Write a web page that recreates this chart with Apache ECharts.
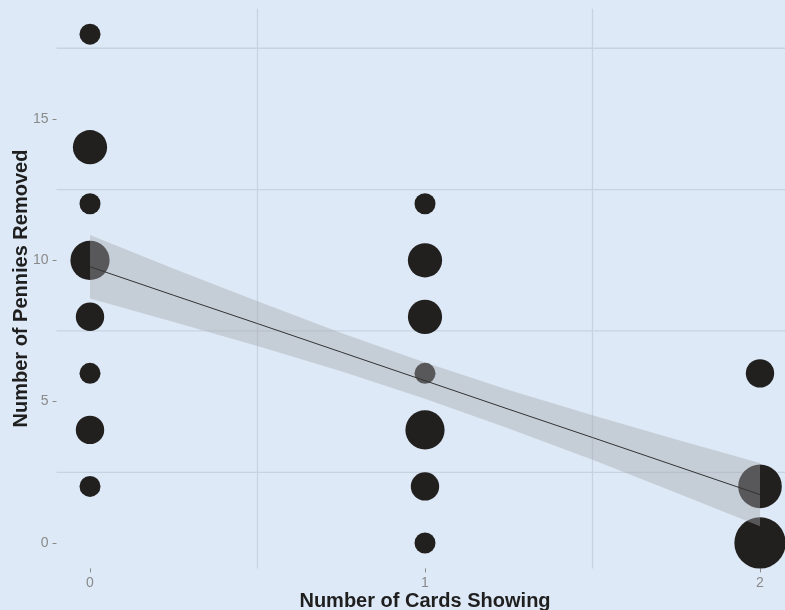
<!DOCTYPE html>
<html>
<head>
<meta charset="utf-8">
<script src="https://cdn.jsdelivr.net/npm/echarts@6/dist/echarts.min.js"></script>
<style>
html,body{margin:0;padding:0;background:#dde9f6;}
#chart{width:785px;height:610px;}
</style>
</head>
<body>
<div id="chart"></div>
<script>
// Data
const cardsShowing   = [0, 0, 0, 0, 0, 0, 0, 0, 1, 1, 1, 1, 1, 1, 1, 2, 2, 2];
const penniesRemoved = [18, 14, 12, 10, 8, 6, 4, 2, 12, 10, 8, 6, 4, 2, 0, 6, 2, 0];
const counts         = [1, 3, 1, 4, 2, 1, 2, 1, 1, 3, 3, 1, 4, 2, 1, 2, 5, 7];

// fitted regression line with its confidence band
const fitX     = [0, 0.25, 0.5, 0.75, 1, 1.25, 1.5, 1.75, 2];
const fitY     = [9.77, 8.76, 7.76, 6.75, 5.74, 4.73, 3.73, 2.72, 1.71];
const fitLower = [8.65, 7.82, 6.97, 6.07, 5.10, 4.05, 2.94, 1.78, 0.59];
const fitUpper = [10.89, 9.70, 8.55, 7.43, 6.38, 5.41, 4.52, 3.66, 2.83];

const xTicks = [0, 1, 2];
const yTicks = [0, 5, 10, 15];
const gridX  = [0.5, 1.5];
const gridY  = [2.5, 7.5, 12.5, 17.5];

const xName = 'Number of Cards Showing';
const yName = 'Number of Pennies Removed';

const pointData = cardsShowing.map((x, i) => [x, penniesRemoved[i], counts[i]]);

function sizeFor(n) { return Math.sqrt(441 + 365 * (n - 1)); }

const chart = echarts.init(document.getElementById('chart'), null, {renderer: 'canvas'});
const tickColor = '#8a8a8a';
const gridColor = '#c8d3e2';

chart.setOption({
  backgroundColor: '#dde9f6',
  animation: false,
  grid: {left: 56.5, right: -8.5, top: 8.7, bottom: 41.6, containLabel: false, outerBoundsMode: 'none'},
  xAxis: {
    type: 'value', min: -0.1, max: 2.1,
    name: xName, nameLocation: 'middle', nameGap: 23, nameMoveOverlap: false,
    nameTextStyle: {fontFamily: 'Liberation Sans', fontWeight: 'bold', fontSize: 20, color: '#1f1f1f'},
    axisLine: {show: false, onZero: false},
    splitLine: {show: false},
    axisTick: {show: true, length: 4, customValues: xTicks, lineStyle: {color: tickColor, width: 1}},
    axisLabel: {customValues: xTicks, margin: 8, fontFamily: 'Liberation Sans', fontSize: 14, color: tickColor}
  },
  yAxis: {
    type: 'value', min: -0.9, max: 18.9,
    name: yName, nameLocation: 'middle', nameGap: 25, nameRotate: 90, nameMoveOverlap: false,
    nameTextStyle: {fontFamily: 'Liberation Sans', fontWeight: 'bold', fontSize: 20, color: '#1f1f1f'},
    axisLine: {show: false, onZero: false},
    splitLine: {show: false},
    axisTick: {show: true, length: 4, customValues: yTicks, lineStyle: {color: tickColor, width: 1}},
    axisLabel: {customValues: yTicks, margin: 8, fontFamily: 'Liberation Sans', fontSize: 14, color: tickColor}
  },
  series: [
    {
      type: 'custom', z: 1, silent: true,
      data: gridY.map(v => [0, v]),
      renderItem: function (params, api) {
        const p = api.coord([0, api.value(1)]);
        const cs = params.coordSys;
        return {type: 'line', shape: {x1: cs.x, y1: p[1], x2: cs.x + cs.width, y2: p[1]},
                style: {stroke: gridColor, lineWidth: 1.3}};
      }
    },
    {
      type: 'custom', z: 1, silent: true,
      data: gridX.map(v => [v, 0]),
      renderItem: function (params, api) {
        const p = api.coord([api.value(0), 0]);
        const cs = params.coordSys;
        return {type: 'line', shape: {x1: p[0], y1: cs.y, x2: p[0], y2: cs.y + cs.height},
                style: {stroke: gridColor, lineWidth: 1.3}};
      }
    },
    {
      type: 'scatter', z: 2, clip: true, silent: true,
      data: pointData,
      symbol: 'circle',
      symbolSize: function (val) { return sizeFor(val[2]); },
      itemStyle: {color: '#221f1f', opacity: 1}
    },
    {
      type: 'custom', z: 3, silent: true,
      data: [[0, 0]],
      renderItem: function (params, api) {
        const pts = [];
        for (let i = 0; i < fitX.length; i++) pts.push(api.coord([fitX[i], fitUpper[i]]));
        for (let i = fitX.length - 1; i >= 0; i--) pts.push(api.coord([fitX[i], fitLower[i]]));
        return {type: 'polygon', shape: {points: pts}, style: {fill: 'rgba(165,168,172,0.42)'}};
      }
    },
    {
      type: 'line', z: 4, silent: true,
      data: fitX.map((x, i) => [x, fitY[i]]),
      symbol: 'none',
      lineStyle: {color: '#333333', width: 1}
    }
  ]
});
</script>
</body>
</html>
